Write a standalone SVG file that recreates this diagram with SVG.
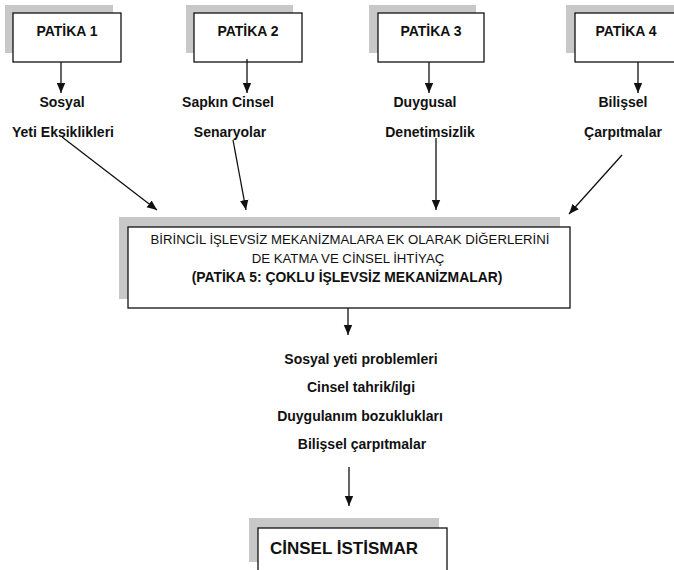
<svg xmlns="http://www.w3.org/2000/svg" width="674" height="570" viewBox="0 0 674 570">
<defs>
<marker id="ah" markerUnits="userSpaceOnUse" markerWidth="10" markerHeight="10" viewBox="0 0 10 10" refX="10" refY="5" orient="auto">
<path d="M0,0.8 L10,5 L0,9.2 Z" fill="#111"/>
</marker>
</defs>
<style>
.sh{fill:#c8c8c8}
.bx{fill:#fff;stroke:#111;stroke-width:1.3}
.t{font-family:"Liberation Sans",Arial,sans-serif;fill:#111;text-anchor:middle}
.b{font-weight:bold;font-size:14px}
.r{font-size:13.2px}
.c{stroke:#111;stroke-width:1.3;fill:none;marker-end:url(#ah)}
</style>
<rect width="674" height="570" fill="#fff"/>
<g id="patika1">
<rect class="sh" x="5" y="5" width="108" height="48"/>
<rect class="bx" x="13" y="13" width="108" height="49"/>
<text class="t b" x="67" y="36">PATİKA 1</text>
</g>
<g id="patika2">
<rect class="sh" x="186" y="5" width="107" height="48"/>
<rect class="bx" x="194" y="13" width="108" height="49"/>
<text class="t b" x="248" y="36">PATİKA 2</text>
</g>
<g id="patika3">
<rect class="sh" x="369" y="5" width="107" height="48"/>
<rect class="bx" x="378" y="13" width="106" height="49"/>
<text class="t b" x="431" y="36">PATİKA 3</text>
</g>
<g id="patika4">
<rect class="sh" x="566" y="5" width="110" height="48"/>
<rect class="bx" x="575" y="13" width="110" height="49"/>
<text class="t b" x="626" y="36">PATİKA 4</text>
</g>
<g id="label1">
<text class="t b" x="62" y="107">Sosyal</text>
<text class="t b" x="63" y="137">Yeti Eksiklikleri</text>
</g>
<g id="label2">
<text class="t b" x="228" y="107">Sapkın Cinsel</text>
<text class="t b" x="230" y="137">Senaryolar</text>
</g>
<g id="label3">
<text class="t b" x="425" y="107">Duygusal</text>
<text class="t b" x="430" y="137">Denetimsizlik</text>
</g>
<g id="label4">
<text class="t b" x="623" y="107">Bilişsel</text>
<text class="t b" x="623" y="137">Çarpıtmalar</text>
</g>
<g id="patika5">
<rect class="sh" x="119" y="217" width="441" height="82"/>
<rect class="bx" x="128" y="227" width="442" height="81"/>
<text class="t r" x="350" y="244">BİRİNCİL İŞLEVSİZ MEKANİZMALARA EK OLARAK DİĞERLERİNİ</text>
<text class="t r" x="348" y="263">DE KATMA VE CİNSEL İHTİYAÇ</text>
<text class="t b" x="347" y="282" style="font-size:13.9px">(PATİKA 5: ÇOKLU İŞLEVSİZ MEKANİZMALAR)</text>
</g>
<g id="outcomes">
<text class="t b" x="361" y="364">Sosyal yeti problemleri</text>
<text class="t b" x="361" y="392">Cinsel tahrik/ilgi</text>
<text class="t b" x="360" y="421">Duygulanım bozuklukları</text>
<text class="t b" x="362" y="449">Bilişsel çarpıtmalar</text>
</g>
<g id="istismar">
<rect class="sh" x="249" y="518" width="190" height="44"/>
<rect class="bx" x="258" y="528" width="189" height="50"/>
<text class="t b" x="344" y="554" style="font-size:17px">CİNSEL İSTİSMAR</text>
</g>
<g id="connectors">
<line class="c" x1="61" y1="62" x2="61" y2="93"/>
<line class="c" x1="247" y1="59" x2="247" y2="93"/>
<line class="c" x1="429" y1="62" x2="429" y2="93"/>
<line class="c" x1="638" y1="62" x2="638" y2="93"/>
<line class="c" x1="62" y1="137" x2="157" y2="210"/>
<line class="c" x1="233" y1="140" x2="246" y2="210"/>
<line class="c" x1="436" y1="138" x2="436" y2="210"/>
<line class="c" x1="622" y1="155" x2="569" y2="214"/>
<line class="c" x1="348" y1="308" x2="348" y2="335"/>
<line class="c" x1="349" y1="467" x2="349" y2="506"/>
</g>
</svg>
